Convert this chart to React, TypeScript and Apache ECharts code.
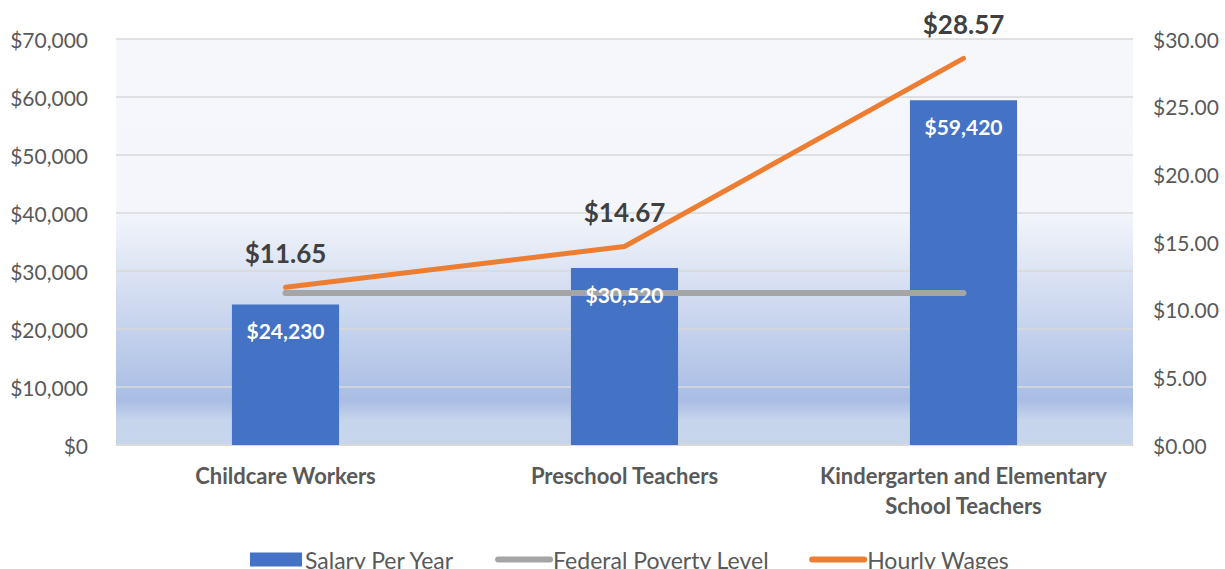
import React, { useEffect, useRef } from "react";
import * as echarts from "echarts";

const categories = ["Childcare Workers", "Preschool Teachers", "Kindergarten and Elementary\nSchool Teachers"];
const salaryPerYear = [24230, 30520, 59420];
const federalPovertyLevel = [26200, 26200, 26200];
const hourlyWages = [11.65, 14.67, 28.57];

const FONT = "Lato, 'Open Sans', sans-serif";

export default function App() {
  const ref = useRef<HTMLDivElement>(null);
  useEffect(() => {
    if (!ref.current) return;
    const chart = echarts.init(ref.current, undefined, { renderer: "svg" });
    chart.setOption({
      animation: false,
      textStyle: { fontFamily: FONT },
      grid: {
        left: 116,
        right: 92,
        top: 39,
        bottom: 124,
        show: true,
        borderWidth: 0,
        backgroundColor: new echarts.graphic.LinearGradient(0, 0, 0, 1, [
          { offset: 0, color: "#f5f7fb" },
          { offset: 0.42, color: "#f4f6fb" },
          { offset: 0.89, color: "#a9bde4" },
          { offset: 0.94, color: "#c7d5ec" },
          { offset: 1, color: "#c8d6ec" },
        ]),
      },
      legend: {
        top: 543,
        left: 245,
        itemGap: 40,
        itemWidth: 52,
        itemHeight: 14,
        textStyle: { fontSize: 23, color: "#595959", fontFamily: FONT, padding: [0, 0, 0, -2] },
        data: [
          { name: "Salary Per Year", icon: "rect" },
          { name: "Federal Poverty Level", itemStyle: { opacity: 0 }, lineStyle: { width: 6, color: "#a5a5a5", cap: "round" } },
          { name: "Hourly Wages", itemStyle: { opacity: 0 }, lineStyle: { width: 6, color: "#ed7d31", cap: "round" } },
        ],
      },
      xAxis: {
        type: "category",
        data: categories,
        axisLine: { show: true, lineStyle: { color: "#d9d9d9", width: 1.5 } },
        axisTick: { show: false },
        axisLabel: {
          interval: 0,
          fontSize: 22,
          fontWeight: "bold",
          color: "#595959",
          margin: 15,
          lineHeight: 30,
          fontFamily: FONT,
        },
      },
      yAxis: [
        {
          type: "value",
          min: 0,
          max: 70000,
          interval: 10000,
          axisLine: { show: false },
          axisTick: { show: false },
          splitLine: { lineStyle: { color: "#d9d9d9", width: 1.5 } },
          axisLabel: {
            fontSize: 21,
            color: "#595959",
            margin: 28,
            fontFamily: FONT,
            formatter: (v: number) => "$" + v.toLocaleString("en-US"),
          },
        },
        {
          type: "value",
          min: 0,
          max: 30,
          interval: 5,
          axisLine: { show: false },
          axisTick: { show: false },
          splitLine: { show: false },
          axisLabel: {
            fontSize: 21,
            color: "#595959",
            margin: 20,
            fontFamily: FONT,
            formatter: (v: number) => "$" + v.toFixed(2),
          },
        },
      ],
      series: [
        {
          name: "Salary Per Year",
          type: "bar",
          data: salaryPerYear,
          barWidth: "31.6%",
          itemStyle: { color: "#4472c4" },
          z: 2,
        },
        {
          name: "Salary Labels",
          type: "bar",
          data: salaryPerYear,
          barWidth: "31.6%",
          barGap: "-100%",
          itemStyle: { color: "rgba(0,0,0,0)" },
          z: 10,
          silent: true,
          label: {
            show: true,
            position: "insideTop",
            distance: 16,
            color: "#ffffff",
            fontWeight: "bold",
            fontSize: 21,
            fontFamily: FONT,
            formatter: (p: any) => "$" + p.value.toLocaleString("en-US"),
          },
        },
        {
          name: "Federal Poverty Level",
          type: "line",
          data: federalPovertyLevel,
          yAxisIndex: 0,
          symbol: "none",
          z: 3,
          lineStyle: { color: "#a5a5a5", width: 6, cap: "round" },
          itemStyle: { color: "#a5a5a5" },
        },
        {
          name: "Hourly Wages",
          type: "line",
          data: hourlyWages,
          yAxisIndex: 1,
          symbol: "circle",
          symbolSize: 0.1,
          showSymbol: true,
          z: 4,
          lineStyle: { color: "#ed7d31", width: 5, cap: "round" },
          itemStyle: { color: "#ed7d31" },
          label: {
            show: true,
            position: "top",
            distance: 21,
            color: "#404040",
            fontWeight: "bold",
            fontSize: 26,
            fontFamily: FONT,
            formatter: (p: any) => "$" + p.value.toFixed(2),
          },
        },
      ],
    });
    return () => chart.dispose();
  }, []);
  return <div ref={ref} style={{ width: 1225, height: 569, position: "absolute", left: 0, top: 0 }} />;
}
